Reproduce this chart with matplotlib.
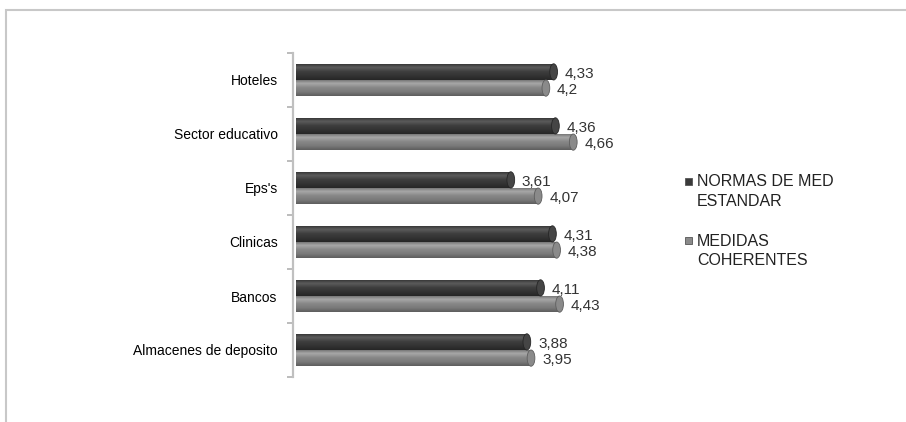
import matplotlib.pyplot as plt
import numpy as np
from matplotlib.colors import LinearSegmentedColormap
from matplotlib.patches import Rectangle, Ellipse
from matplotlib.transforms import ScaledTranslation

# Encuesta: valoracion por sector
categories = ['Hoteles', 'Sector educativo', "Eps's", 'Clinicas', 'Bancos', 'Almacenes de deposito']
normas = [4.33, 4.36, 3.61, 4.31, 4.11, 3.88]
medidas = [4.2, 4.66, 4.07, 4.38, 4.43, 3.95]
series_names = ['NORMAS DE MED\nESTANDAR', 'MEDIDAS\nCOHERENTES']

plt.rcParams['font.family'] = ['Liberation Sans', 'DejaVu Sans']

fig = plt.figure(figsize=(9.06, 4.22), dpi=100)
ax = fig.add_axes([293 / 906, 45 / 422, 360 / 906, 324 / 422])

y = np.arange(len(categories))
bar_h = 0.3


def cylinder(ax, ypos, values, stops, cap_color):
    # barra con sombreado vertical para simular un cilindro
    cmap = LinearSegmentedColormap.from_list('cyl', stops)
    grad = np.linspace(0, 1, 64).reshape(-1, 1)
    bars = ax.barh(ypos, values, height=bar_h, color=stops[2], edgecolor='none', zorder=2)
    for bar in bars:
        x0, y0 = bar.get_x(), bar.get_y()
        w, h = bar.get_width(), bar.get_height()
        im = ax.imshow(grad, extent=(x0, x0 + w, y0 + h, y0), aspect='auto',
                       cmap=cmap, zorder=3, interpolation='bilinear')
        im.set_clip_path(bar)
        ax.add_patch(Ellipse((x0 + w, y0 + h / 2), 0.13, h, facecolor=cap_color,
                             edgecolor=stops[-1], lw=0.6, zorder=4))
    return bars


dark_stops = ['#2e2e2e', '#5c5c5c', '#3e3e3e', '#333333', '#262626']
gray_stops = ['#6a6a6a', '#a8a8a8', '#888888', '#7a7a7a', '#5e5e5e']
cylinder(ax, y - 0.15, normas, dark_stops, '#454545')
cylinder(ax, y + 0.15, medidas, gray_stops, '#8a8a8a')

# etiquetas de valor con coma decimal
for ys, vals in ((y - 0.15, normas), (y + 0.15, medidas)):
    for yy, v in zip(ys, vals):
        ax.annotate(f'{v:g}'.replace('.', ','), (v, yy), xytext=(8, -1.5),
                    textcoords='offset points', ha='left', va='center',
                    fontsize=11, color='#333333', zorder=5)

ax.set_xlim(-0.05, 6)
ax.set_ylim(len(categories) - 0.5, -0.5)
ax.set_xticks([])
ax.set_yticks(y)
ax.set_yticklabels(categories, fontsize=11, color='#222222')
for lab in ax.get_yticklabels():
    lab.set_transform(lab.get_transform() + ScaledTranslation(0, -4 / 100, fig.dpi_scale_trans))
ax.set_yticks(np.arange(-0.5, len(categories)), minor=True)
ax.tick_params(axis='y', which='major', length=0, pad=11)
ax.tick_params(axis='y', which='minor', length=4, width=1.2, color='#b0b0b0', direction='out')
for side in ('top', 'right', 'bottom'):
    ax.spines[side].set_visible(False)
ax.spines['left'].set_color('#c0c0c0')
ax.spines['left'].set_linewidth(1.6)
ax.spines['left'].set_position(('data', -0.05))

# leyenda
legend_rows = [(191.5, '#3a3a3a'), (251, '#8a8a8a')]
for (ypx, col), name in zip(legend_rows, series_names):
    first_line = ypx - 10.5
    fig.add_artist(Rectangle((685 / 906, 1 - (first_line + 3.5) / 422), 7 / 906, 7 / 422,
                             transform=fig.transFigure, facecolor=col, edgecolor='#555555', lw=0.6))
    fig.text(697 / 906, 1 - ypx / 422, name, fontsize=11.5, color='#222222',
             va='center', ha='left', linespacing=1.35)

# marco exterior
fig.add_artist(Rectangle((6 / 906, -0.1), 2, 1.1 - 9.5 / 422, transform=fig.transFigure,
                         fill=False, edgecolor='#c8c8c8', lw=1.5))

fig.savefig('out.png', dpi=100)
